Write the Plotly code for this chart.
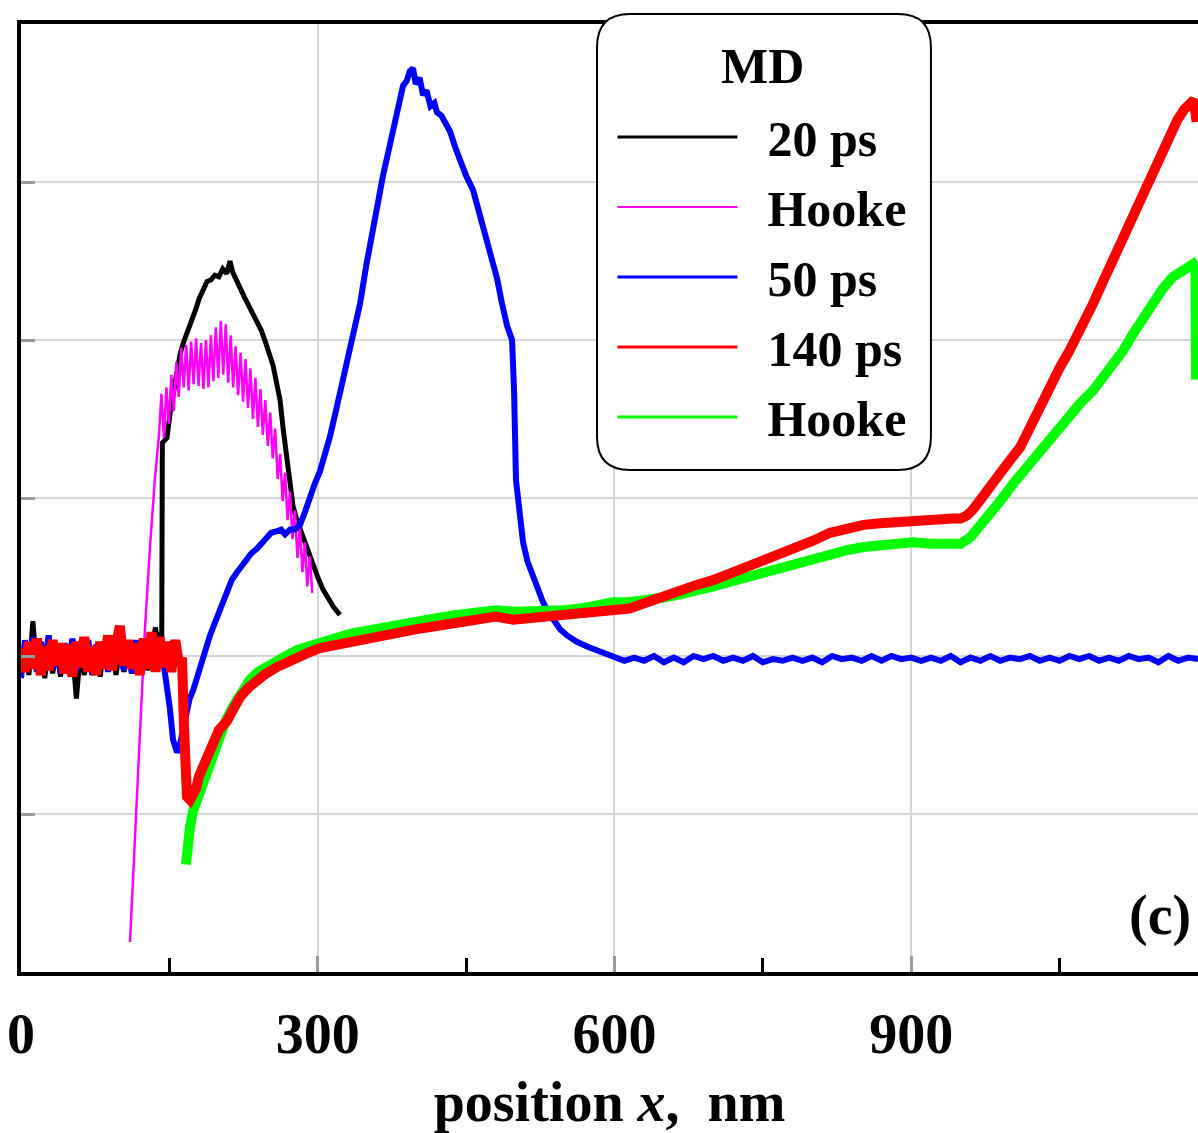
import plotly.graph_objects as go

# ---------------- data (position x in nm, profile value in grid units) ----------------
# 20 ps, MD
md20_x = [0, 4, 8, 12, 16, 20, 24, 28, 32, 36, 40, 44, 48, 52, 56, 60, 64, 68, 72, 76,
          80, 84, 88, 92, 96, 100, 104, 108, 112, 116, 120, 124, 128, 132, 136, 140,
          141.5, 142.3, 142.9, 144.5, 147.6, 151, 154, 157, 160.8, 164, 167, 170, 173.9,
          177, 180, 184, 188.1, 192, 196, 200, 204, 208, 211.3, 214, 218, 221.4, 226, 230,
          234, 238.6, 243, 247, 251, 254.8, 258, 261.9, 265, 269, 272, 275, 279, 284, 289.2,
          295, 300, 305.4, 310, 316, 322.5]
md20_y = [-0.10, 0.08, -0.12, 0.22, -0.09, 0.05, -0.14, 0.06, -0.11, 0.04, -0.13, 0.07,
          -0.08, 0.03, -0.27, 0.02, -0.12, 0.06, -0.10, 0.04, -0.13, 0.05, -0.09, 0.08,
          -0.12, 0.03, -0.10, 0.06, -0.11, 0.04, -0.12, 0.07, -0.09, 0.05, 0.18, -0.04,
          0.15, 0.10, 1.35, 1.36, 1.38, 1.55, 1.66, 1.78, 1.91, 1.98, 2.03, 2.07, 2.13,
          2.20, 2.26, 2.31, 2.37, 2.38, 2.41, 2.40, 2.45, 2.42, 2.50, 2.43, 2.37, 2.32,
          2.27, 2.22, 2.17, 2.13, 2.06, 1.99, 1.92, 1.84, 1.74, 1.62, 1.44, 1.22, 1.06,
          0.95, 0.86, 0.77, 0.68, 0.58, 0.50, 0.42, 0.37, 0.31, 0.26]

# 20 ps, Hooke
hooke20_x = [110.2, 118, 125.4, 130.5, 135.5, 139.5,
             142, 144.5, 147, 149.5, 152, 154.5, 157, 159.5, 162, 164.5, 167, 169.5, 172,
             174.5, 177, 179.5, 182, 184.5, 187, 189.5, 192, 194.5, 197, 199.5, 202, 204.5,
             207, 209.5, 212, 214.5, 217, 219.5, 222, 224.5, 227, 229.5, 232, 234.5, 237,
             239.5, 242, 244.5, 247, 249.5, 252, 254.5, 257, 259.5, 262, 264.5, 267, 269.5,
             272, 274.5, 277, 279.5, 282, 284.5, 287, 289.5, 292, 294.5]
hooke20_y = [-1.81, -0.78, 0.18, 0.70, 1.13, 1.40,
             1.66, 1.38, 1.70, 1.47, 1.78, 1.55, 1.86, 1.64, 1.95, 1.70, 1.97, 1.68, 1.99,
             1.72, 2.01, 1.71, 1.98, 1.69, 2.00, 1.70, 2.03, 1.74, 2.08, 1.76, 2.12, 1.78,
             2.10, 1.73, 2.03, 1.70, 1.96, 1.65, 1.92, 1.61, 1.88, 1.57, 1.82, 1.50, 1.76,
             1.45, 1.69, 1.40, 1.62, 1.33, 1.54, 1.25, 1.44, 1.12, 1.28, 0.98, 1.16, 0.86,
             1.04, 0.74, 0.92, 0.62, 0.82, 0.53, 0.72, 0.44, 0.63, 0.40]

# 50 ps, MD
md50_x = [0, 4, 8, 12, 16, 20, 24, 28, 32, 36, 40, 44, 48, 52, 56, 60, 64, 68, 72, 76,
          80, 84, 88, 92, 96, 100, 104, 108, 112, 116, 120, 124, 128, 132, 136, 140, 144,
          147.6, 150.5, 153.7, 157.7, 160, 162.8, 165, 167.8, 170.5, 173.9, 178, 184, 187,
          191.1, 196, 201.2, 205, 208.3, 213, 218.4, 223, 228.5, 233, 238.6, 243, 248.7,
          253, 258.8, 263, 267, 272, 277, 282.1, 287, 292.2, 297, 302.3, 307, 312.4, 318,
          325.6, 333, 342.8, 349, 355.9, 361, 366, 371, 376.1, 381, 386.3, 390, 393, 396.4,
          399, 403, 406.5, 410, 414, 418, 420.6, 425, 429, 433.8, 439, 443.9, 450, 457, 464,
          471.2, 476, 481.3, 486, 491.4, 496.5, 498.5, 500.5, 503.5, 507.6, 512, 517.7, 522,
          527.8, 533, 537.9, 545, 552.1, 562, 572.3, 585,
          600, 610, 620, 630, 640, 650, 660, 670, 680, 690, 700, 710, 720, 730, 740, 750,
          760, 770, 780, 790, 800, 810, 820, 830, 840, 850, 860, 870, 880, 890, 900, 910,
          920, 930, 940, 950, 960, 970, 980, 990, 1000, 1010, 1020, 1030, 1040, 1050, 1060,
          1070, 1080, 1090, 1100, 1110, 1120, 1130, 1140, 1150, 1160, 1170, 1180, 1190]
md50_y = [-0.14, 0.10, -0.06, 0.12, -0.10, 0.09, -0.05, 0.13, -0.08, 0.06, -0.11, 0.08,
          -0.04, 0.11, -0.09, 0.05, -0.07, 0.10, -0.12, 0.07, -0.06, 0.09, -0.10, 0.12,
          -0.05, 0.08, -0.09, 0.06, -0.11, 0.10, -0.07, 0.05, -0.08, 0.11, -0.06, 0.08,
          -0.04,
          -0.17, -0.33, -0.53, -0.61, -0.58, -0.50, -0.40, -0.34, -0.27, -0.22, -0.13,
          -0.03, 0.05, 0.13, 0.21, 0.29, 0.36, 0.42, 0.48, 0.53, 0.57, 0.61, 0.65, 0.68,
          0.71, 0.75, 0.78, 0.79, 0.80, 0.77, 0.80, 0.80, 0.83, 0.91, 1.01, 1.09, 1.17,
          1.27, 1.39, 1.54, 1.76, 1.99, 2.23, 2.47, 2.72, 2.90, 3.04, 3.18, 3.33, 3.48,
          3.61, 3.64, 3.70, 3.72, 3.62, 3.66, 3.55, 3.58, 3.48, 3.50, 3.44, 3.42, 3.37,
          3.32, 3.22, 3.13, 3.04, 2.95, 2.79, 2.63, 2.52, 2.39, 2.24, 2.09, 2.00, 1.68,
          1.11, 0.92, 0.72, 0.60, 0.50, 0.42, 0.34, 0.28, 0.23, 0.17, 0.13, 0.09, 0.06,
          0.03,
          0.00, -0.03, -0.01, -0.03, 0.00, -0.04, -0.01, -0.04, 0.00, -0.02, 0.00, -0.03,
          -0.01, -0.03, 0.00, -0.04, -0.02, -0.03, -0.01, -0.03, -0.01, -0.04, 0.00, -0.02,
          -0.01, -0.03, 0.00, -0.03, 0.00, -0.02, -0.01, -0.03, -0.01, -0.03, 0.00, -0.04,
          -0.01, -0.03, 0.00, -0.03, -0.01, -0.02, 0.00, -0.03, -0.01, -0.03, 0.00, -0.02,
          0.00, -0.03, -0.01, -0.03, 0.00, -0.02, -0.01, -0.04, 0.00, -0.03, -0.01, -0.02]

# 140 ps, MD
md140_x = [0, 4, 8, 12, 16, 20, 24, 28, 32, 36, 40, 44, 48, 52, 56, 60, 64, 68, 72, 76,
           80, 84, 88, 92, 96, 100, 104, 108, 112, 116, 120, 124, 128, 132, 136, 140, 144,
           148, 152, 156, 160,
           162.8, 164.8, 166.5, 167.8, 170.9, 173.9, 177, 180, 184, 189, 194.1, 200, 208.3,
           214, 221.4, 230, 238.6, 248, 258.8, 268, 279.1, 290, 302.3, 317, 332.7, 350, 365,
           383.2, 400, 420, 440, 464.1, 480, 497.5, 515, 531.8, 548, 565.2, 582, 598.6, 615,
           633, 650, 666.3, 683, 699.7, 717, 734.1, 750, 767.4, 784, 800.8, 818, 835.2, 852,
           868.6, 885, 901.9, 920, 942.4, 950, 956.5, 963, 969.7, 979, 989.9, 1000, 1010.1,
           1020, 1030.3, 1040, 1050.6, 1059, 1067.7, 1076, 1083.9, 1094, 1104.1, 1114,
           1124.4, 1133, 1141.6, 1148, 1154.7, 1162, 1168.9, 1176, 1182, 1186, 1188.5]
md140_y = [0.05, -0.10, 0.09, -0.08, 0.11, -0.12, 0.06, -0.09, 0.10, -0.06, 0.08, -0.11,
           0.07, -0.13, 0.09, -0.07, 0.12, -0.10, 0.06, -0.12, 0.09, -0.08, 0.13, -0.09,
           0.07, 0.19, -0.06, 0.10, -0.08, 0.08, -0.12, 0.11, -0.08, 0.15, -0.10, 0.12,
           -0.07, 0.09, -0.10, 0.10, -0.06,
           -0.01, -0.45, -0.78, -0.89, -0.91, -0.87, -0.84, -0.76, -0.70, -0.61, -0.53,
           -0.47, -0.41, -0.33, -0.26, -0.20, -0.15, -0.11, -0.07, -0.04, -0.01, 0.02, 0.05,
           0.07, 0.09, 0.11, 0.13, 0.15, 0.17, 0.19, 0.21, 0.24, 0.25, 0.23, 0.24, 0.24,
           0.25, 0.26, 0.27, 0.28, 0.30, 0.34, 0.38, 0.42, 0.45, 0.48, 0.52, 0.56, 0.61,
           0.65, 0.69, 0.73, 0.78, 0.81, 0.83, 0.84, 0.85, 0.86, 0.86, 0.87, 0.87, 0.89,
           0.93, 0.99, 1.07, 1.16, 1.24, 1.32, 1.45, 1.58, 1.70, 1.83, 1.92, 2.02, 2.12,
           2.23, 2.37, 2.51, 2.64, 2.78, 2.89, 3.01, 3.12, 3.22, 3.31, 3.39, 3.46, 3.51,
           3.52, 3.38]

# 140 ps, Hooke
hooke140_x = [166.8, 168, 170.9, 174, 178, 183, 188.1, 194, 201.2, 207, 214.4, 222, 231.5,
              240, 250, 264.9, 280, 299.3, 315, 332.7, 350, 365, 383.2, 400, 420, 440,
              464.1, 480, 500, 515, 531.8, 548, 565.2, 582, 598.6, 615, 633, 650, 666.3,
              683, 699.7, 717, 734.1, 750, 767.4, 784, 800.8, 818, 835.2, 852, 868.6, 885,
              901.9, 920, 942.4, 950, 959.6, 968, 976.7, 990, 1003, 1016, 1030.3, 1044,
              1057.6, 1071, 1083.9, 1094, 1104.1, 1114, 1124.4, 1134, 1144.6, 1155, 1164.8,
              1175, 1185, 1187.5, 1188]
hooke140_y = [-1.32, -1.18, -1.08, -0.98, -0.91, -0.80, -0.70, -0.60, -0.50, -0.41, -0.32,
              -0.23, -0.15, -0.10, -0.06, -0.01, 0.04, 0.08, 0.11, 0.14, 0.16, 0.18, 0.20,
              0.22, 0.24, 0.26, 0.28, 0.29, 0.28, 0.28, 0.28, 0.29, 0.30, 0.32, 0.34, 0.34,
              0.35, 0.37, 0.39, 0.41, 0.44, 0.47, 0.50, 0.53, 0.56, 0.58, 0.61, 0.64, 0.67,
              0.69, 0.70, 0.71, 0.72, 0.71, 0.70, 0.71, 0.75, 0.81, 0.88, 0.98, 1.09, 1.19,
              1.30, 1.41, 1.51, 1.60, 1.68, 1.76, 1.83, 1.93, 2.04, 2.14, 2.25, 2.33, 2.40,
              2.44, 2.48, 2.45, 1.75]

x_tick_vals = [0, 300, 600, 900]
x_tick_text = ["0", "300", "600", "900"]
x_minor_vals = [150, 450, 750, 1050]
y_grid_vals = [-1, 0, 1, 2, 3]

legend_title = "MD"
legend_names = ["20 ps", "Hooke", "50 ps", "140 ps", "Hooke"]
legend_colors = ["black", "#ff00ff", "#0000ff", "#ff0000", "#00ff00"]
legend_widths = [3, 2, 3, 3, 3]

SERIF = "Liberation Serif"

fig = go.Figure()

# curves (drawing order: black, magenta, blue, green, red)
fig.add_trace(go.Scatter(x=md20_x, y=md20_y, mode="lines", showlegend=False,
                         line=dict(color="black", width=5)))
fig.add_trace(go.Scatter(x=hooke20_x, y=hooke20_y, mode="lines", showlegend=False,
                         line=dict(color="#ff00ff", width=2.5)))
fig.add_trace(go.Scatter(x=md50_x, y=md50_y, mode="lines", showlegend=False,
                         line=dict(color="#0000ff", width=6)))
fig.add_trace(go.Scatter(x=hooke140_x, y=hooke140_y, mode="lines", showlegend=False,
                         line=dict(color="#00ff00", width=10)))
fig.add_trace(go.Scatter(x=md140_x, y=md140_y, mode="lines", showlegend=False,
                         line=dict(color="#ff0000", width=10)))

# legend entries (thin sample lines, extra gap before the text)
for i, (name, col, w) in enumerate(zip(legend_names, legend_colors, legend_widths)):
    fig.add_trace(go.Scatter(x=[None], y=[None], mode="lines",
                             name="\u00a0\u00a0" + name,
                             legendgroup=f"g{i}", line=dict(color=col, width=w)))

# rounded legend frame (paper coordinates)
L, R, T, B = 0.4894, 0.7731, 1.0106, 0.5295
rx, ry = 0.028, 0.035
frame_path = (f"M {L+rx},{T} L {R-rx},{T} Q {R},{T} {R},{T-ry} L {R},{B+ry} "
              f"Q {R},{B} {R-rx},{B} L {L+rx},{B} Q {L},{B} {L},{B+ry} "
              f"L {L},{T-ry} Q {L},{T} {L+rx},{T} Z")
fig.add_shape(type="path", path=frame_path, xref="paper", yref="paper",
              line=dict(color="black", width=2), fillcolor="white", layer="above")

fig.add_annotation(text=legend_title, x=0.6296, y=0.9557, xref="paper", yref="paper",
                   xanchor="center", yanchor="middle", showarrow=False,
                   font=dict(family=SERIF, size=50, color="black", weight="bold"))

fig.add_annotation(text="(c)", x=0.996, y=0.06, xref="paper", yref="paper",
                   xanchor="right", yanchor="middle", showarrow=False,
                   font=dict(family=SERIF, size=56, color="black", weight="bold"))

fig.update_layout(
    width=1198, height=1133,
    margin=dict(l=21, r=0, t=24, b=161),
    plot_bgcolor="white", paper_bgcolor="white",
    legend=dict(
        x=0.5025, y=0.922, xanchor="left", yanchor="top",
        bgcolor="rgba(0,0,0,0)", borderwidth=0,
        font=dict(family=SERIF, size=50, color="black", weight="bold"),
        itemwidth=120, tracegroupgap=2, traceorder="grouped",
    ),
    xaxis=dict(
        range=[0, 1190], tickvals=x_tick_vals, ticktext=x_tick_text,
        ticks="inside", ticklen=16, tickwidth=3, tickcolor="#9a9a9a",
        showline=True, linewidth=4, linecolor="black", mirror=True,
        showgrid=True, gridcolor="#d6d6d6", gridwidth=2, zeroline=False,
        minor=dict(tickvals=x_minor_vals, ticks="inside", ticklen=14, tickwidth=3,
                   tickcolor="black", showgrid=False),
        tickfont=dict(family=SERIF, size=56, color="black", weight="bold"),
        ticklabelstandoff=10,
        title=dict(text="position <i>x</i>,\u00a0 nm", standoff=19,
                   font=dict(family=SERIF, size=56, color="black", weight="bold")),
        automargin=False,
    ),
    yaxis=dict(
        range=[-2, 4], tickvals=y_grid_vals, showticklabels=False,
        ticks="inside", ticklen=14, tickwidth=3, tickcolor="#9a9a9a",
        showline=True, linewidth=4, linecolor="black",
        showgrid=True, gridcolor="#d6d6d6", gridwidth=2, zeroline=False,
        automargin=False,
    ),
)

fig.write_html("out.html")
